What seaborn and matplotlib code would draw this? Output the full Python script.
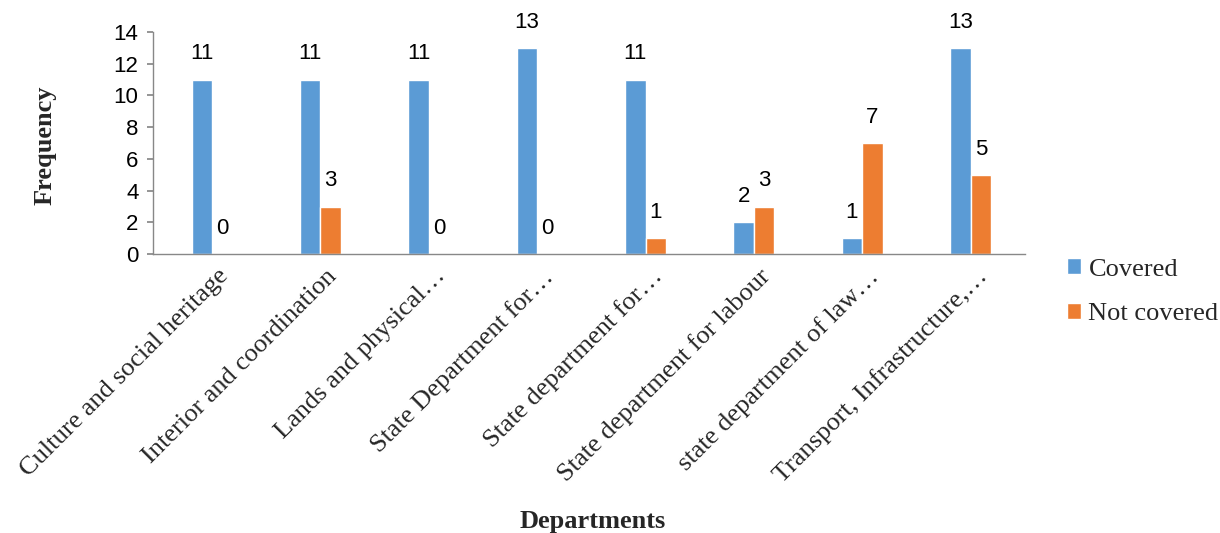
"""Departments coverage bar chart."""

import matplotlib.pyplot as plt
import matplotlib.transforms as mtransforms
import pandas as pd
import seaborn as sns

departments = [
    "Culture and social heritage",
    "Interior and coordination",
    "Lands and physical\u2026",
    "State Department for\u2026",
    "State department for\u2026",
    "State department for labour",
    "state department of law\u2026",
    "Transport, Infrastructure,\u2026",
]
covered = [11, 11, 11, 13, 11, 2, 1, 13]
not_covered = [0, 3, 0, 0, 1, 3, 7, 5]
series_names = ["Covered", "Not covered"]
colors = ["#5B9BD5", "#ED7D31"]

df = pd.DataFrame(
    {
        "Department": departments * 2,
        "Status": [series_names[0]] * len(departments)
        + [series_names[1]] * len(departments),
        "Frequency": covered + not_covered,
    }
)

sns.set_theme(style="white")
plt.rcParams["font.family"] = ["Liberation Sans", "DejaVu Sans"]

fig = plt.figure(figsize=(12.2, 5.33), dpi=100)
ax = fig.add_axes([0.125, 0.523, 0.715, 0.417])

sns.barplot(
    data=df,
    x="Department",
    y="Frequency",
    hue="Status",
    palette=colors,
    width=0.38,
    gap=0,
    saturation=1,
    ax=ax,
)

for container in ax.containers:
    ax.bar_label(container, padding=11, fontsize=16, color="black")

ax.set_ylim(0, 14)
ax.set_yticks(range(0, 15, 2))
ax.set_xlim(-0.55, 7.5)
ax.tick_params(axis="y", labelsize=16, length=4, pad=6, color="#888888", left=True)
ax.tick_params(axis="x", length=0)
for lbl in ax.get_yticklabels():
    lbl.set_color("black")

ax.set_xticks(range(len(departments)))
ax.set_xticklabels(
    departments,
    rotation=45,
    ha="right",
    rotation_mode="anchor",
    fontsize=19,
    family="Liberation Serif",
)
shift = mtransforms.ScaledTranslation(5 / 100, -6 / 100, fig.dpi_scale_trans)
for lbl in ax.get_xticklabels():
    lbl.set_transform(lbl.get_transform() + shift)

for side in ["top", "right"]:
    ax.spines[side].set_visible(False)
for side in ["left", "bottom"]:
    ax.spines[side].set_color("#888888")
    ax.spines[side].set_linewidth(1)

ax.set_ylabel("")
ax.set_xlabel("")
fig.text(
    0.037, 0.728, "Frequency", ha="center", va="center", rotation=90,
    fontsize=19, fontweight="bold", family="Liberation Serif",
)
fig.text(
    0.486, 0.0, "Departments", ha="center", va="bottom",
    fontsize=19, fontweight="bold", family="Liberation Serif",
)

handles, labels = ax.get_legend_handles_labels()
ax.legend(
    handles,
    labels,
    loc="upper left",
    bbox_to_anchor=(0.855, 0.56),
    bbox_transform=fig.transFigure,
    frameon=False,
    prop={"family": "Liberation Serif", "size": 19},
    handlelength=0.55,
    handleheight=0.55,
    handletextpad=0.27,
    labelspacing=0.85,
)

fig.savefig("out.png", dpi=100)
